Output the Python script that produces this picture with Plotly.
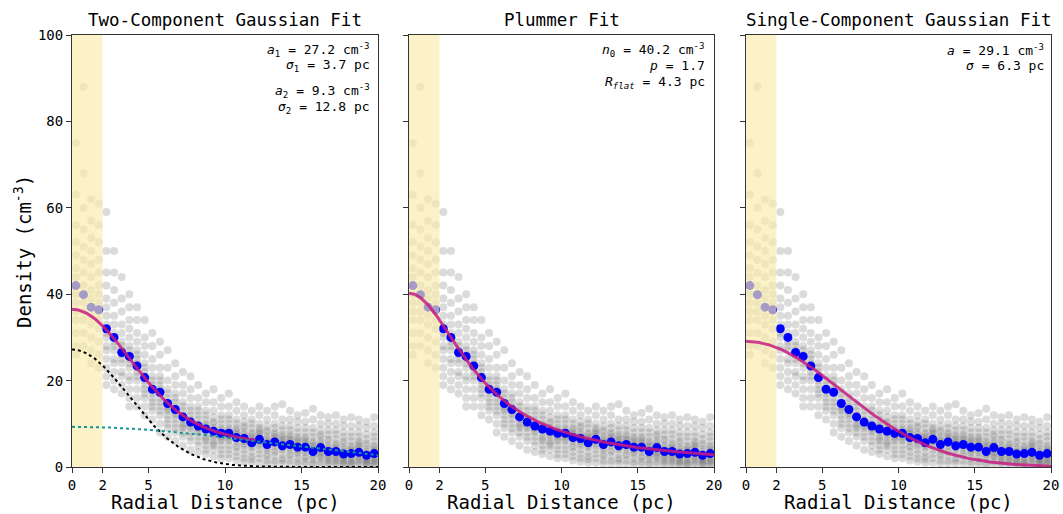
import numpy as np
import plotly.graph_objects as go

# ---------------- data ----------------
radius_bins = [0.25 + 0.5 * i for i in range(40)]

mean_density = [42.0, 39.9, 37.0, 36.4, 32.0, 30.0, 26.5, 25.6, 23.4, 20.7,
                18.0, 17.3, 14.7, 13.3, 11.6, 10.4, 9.5, 8.8, 8.3, 7.8,
                7.8, 6.8, 6.6, 5.6, 6.4, 5.2, 5.8, 4.9, 5.2, 4.6,
                4.6, 3.6, 4.5, 3.6, 3.6, 3.0, 3.1, 3.4, 2.7, 3.1]

gray_samples = [
    [75, 63, 56, 52, 49, 46, 44, 42, 40, 38, 36, 34, 31, 28, 26],
    [88, 68, 60, 55, 51, 48, 45, 42, 40, 38, 36, 34, 31, 28],
    [62, 57, 53, 50, 47, 44, 41, 39, 37, 35, 33, 30, 27, 24],
    [61, 56, 52, 48, 45, 42, 40, 38, 36, 34, 32, 29, 26, 23],
    [59, 50, 45, 42, 39, 37, 35, 33, 32, 31, 30, 28, 27, 25, 23, 21, 19],
    [50, 45, 41, 38, 35, 33, 31, 30, 29, 28, 27, 25, 24, 22, 20, 18],
    [44, 39, 36, 33, 31, 29, 28, 27, 26, 25, 24, 22, 21, 19, 17],
    [40, 37, 34, 32, 30, 28, 27, 26, 25, 24, 23, 21, 20, 18, 16, 14],
    [37, 34, 31, 29, 27, 26, 25, 24, 23, 22, 21, 20, 18, 16, 14],
    [34, 30, 28, 26, 24, 23, 22, 21, 20, 19, 18, 17, 16, 14, 12],
    [31, 28, 25, 23, 21, 20, 19, 18, 17, 16, 15, 14, 13, 11],
    [29, 26, 23, 21, 20, 19, 18, 17, 16, 15, 14, 13, 12, 10, 8],
    [27, 23, 20, 18, 17, 16, 15, 14, 13.5, 13, 12, 11, 10, 9, 7],
    [24, 21, 19, 17, 16, 15, 14, 13, 12.5, 12, 11, 10, 9, 8, 6],
    [22, 19, 17, 15, 14, 13, 12, 11.5, 11, 10, 9.5, 9, 8, 7, 5],
    [21, 18, 16, 14, 13, 12, 11, 10.5, 10, 9.5, 9, 8, 7, 6, 4],
    [19, 16, 14, 13, 12, 11, 10, 9.5, 9, 8.5, 8, 7, 6, 5, 3.5],
    [17, 15, 13, 12, 11, 10, 9.5, 9, 8.5, 8, 7, 6.5, 6, 5, 4, 3],
    [18, 15, 13, 11.5, 10.5, 10, 9, 8.5, 8, 7.5, 7, 6, 5.5, 5, 4, 2.5],
    [16, 14, 12, 11, 10, 9, 8.5, 8, 7.5, 7, 6.5, 6, 5, 4, 3, 2],
    [17, 14, 12, 11, 10, 9, 8.5, 8, 7.5, 7, 6.5, 6, 5, 4, 3, 2],
    [15, 13, 11, 10, 9, 8.5, 8, 7.5, 7, 6.5, 6, 5, 4.5, 3.5, 2.5, 1.5],
    [14, 12, 10.5, 9.5, 9, 8, 7.5, 7, 6.5, 6, 5.5, 5, 4, 3, 2, 1.2],
    [13, 11, 10, 9, 8, 7.5, 7, 6.5, 6, 5.5, 5, 4.5, 3.5, 2.5, 1.8, 1],
    [14, 12, 10, 9, 8.5, 8, 7.5, 7, 6.5, 6, 5.5, 5, 4, 3, 2, 1],
    [13, 11, 9.5, 8.5, 8, 7, 6.5, 6, 5.5, 5, 4.5, 4, 3, 2.5, 1.5, 0.8],
    [14, 12, 10, 9, 8, 7.5, 7, 6.5, 6, 5.5, 5, 4, 3.5, 2.5, 1.5, 0.8],
    [14.5, 11, 9.5, 8.5, 7.5, 7, 6.5, 6, 5.5, 5, 4.5, 4, 3, 2, 1.5, 0.8],
    [13, 11, 9.5, 8.5, 7.5, 7, 6.5, 6, 5.5, 5, 4.5, 4, 3, 2.5, 1.5, 0.7],
    [12, 10.5, 9, 8, 7, 6.5, 6, 5.5, 5, 4.5, 4, 3.5, 3, 2, 1.2, 0.6],
    [12.5, 10.5, 9, 8, 7, 6.5, 6, 5.5, 5, 4.5, 4, 3.5, 2.5, 2, 1.2, 0.6],
    [13.5, 11, 9, 8, 7, 6, 5.5, 5, 4.5, 4, 3.5, 3, 2.5, 1.8, 1, 0.5],
    [12, 10, 8.5, 7.5, 7, 6, 5.5, 5, 4.5, 4, 3.5, 3, 2.5, 2, 1.2, 0.6],
    [11.5, 10, 8.5, 7.5, 6.5, 6, 5, 4.5, 4, 3.5, 3, 2.5, 2, 1.5, 1, 0.5],
    [12, 10, 8.5, 7.5, 6.5, 5.5, 5, 4.5, 4, 3.5, 3, 2.5, 2, 1.5, 1, 0.5],
    [11, 9.5, 8, 7, 6, 5.5, 4.5, 4, 3.5, 3, 2.5, 2, 1.5, 1.2, 0.8, 0.4],
    [11.5, 9.5, 8, 7, 6, 5, 4.5, 4, 3.5, 3, 2.5, 2, 1.5, 1, 0.7, 0.4],
    [11, 9.5, 8, 7, 6, 5.5, 5, 4.5, 4, 3.5, 3, 2.5, 2, 1.5, 1, 0.5],
    [10.5, 9, 7.5, 6.5, 5.5, 5, 4, 3.5, 3, 2.5, 2, 1.8, 1.4, 1, 0.7, 0.4],
    [11.5, 9.5, 8, 7, 6, 5, 4.5, 4, 3.5, 3, 2.5, 2, 1.5, 1.2, 0.8, 0.4],
]

# fit parameters
g2_a1, g2_s1, g2_a2, g2_s2 = 27.2, 3.7, 9.3, 12.8
pl_n0, pl_p, pl_rflat = 40.2, 1.7, 4.3
g1_a, g1_s = 29.1, 6.3

panel_titles = ["Two-Component Gaussian Fit", "Plummer Fit", "Single-Component Gaussian Fit"]
x_tickvals = [0, 2, 5, 10, 15, 20]
y_tickvals = [0, 20, 40, 60, 80, 100]

# ---------------- figure ----------------
W, H = 1063, 514
ML, MR, MT, MB = 60, 8, 30, 40
PW, PH = W - ML - MR, H - MT - MB
FONT = "DejaVu Sans Mono"
x_dom_px = [(72, 378), (409, 714), (746, 1051)]
y_top_px, y_bot_px = 35, 467


def px_x(v):
    return (v - ML) / PW


def px_y(v):
    return (H - MB - v) / PH


gx = [r for r, vals in zip(radius_bins, gray_samples) for _ in vals]
gy = [v for vals in gray_samples for v in vals]

r_full = np.linspace(0, 20, 300)
r_part = np.linspace(0, 12, 200)
comp1 = lambda r: g2_a1 * np.exp(-r ** 2 / (2 * g2_s1 ** 2))
comp2 = lambda r: g2_a2 * np.exp(-r ** 2 / (2 * g2_s2 ** 2))
plummer = lambda r: pl_n0 / (1 + (r / pl_rflat) ** 2) ** (pl_p / 2)
gauss1 = lambda r: g1_a * np.exp(-r ** 2 / (2 * g1_s ** 2))

fig = go.Figure()
MAG = "rgb(200,30,130)"

for i in range(3):
    xa = "x" if i == 0 else f"x{i+1}"
    ya = "y" if i == 0 else f"y{i+1}"
    fig.add_trace(go.Scatter(x=gx, y=gy, mode="markers", xaxis=xa, yaxis=ya,
                             marker=dict(size=8, color="rgba(90,90,90,0.22)", line=dict(width=0)),
                             hoverinfo="skip", showlegend=False))
    fig.add_trace(go.Scatter(x=radius_bins, y=mean_density, mode="markers", xaxis=xa, yaxis=ya,
                             marker=dict(size=9, color="rgb(0,0,255)", line=dict(width=0)),
                             showlegend=False))
    fig.add_trace(go.Scatter(x=[0, 2, 2, 0, 0], y=[0, 0, 100, 100, 0], mode="lines", xaxis=xa, yaxis=ya,
                             fill="toself", fillcolor="rgba(250,236,170,0.66)", line=dict(width=0),
                             hoverinfo="skip", showlegend=False))
    if i == 0:
        fig.add_trace(go.Scatter(x=r_part, y=comp1(r_part) + comp2(r_part), mode="lines", xaxis=xa, yaxis=ya,
                                 line=dict(color=MAG, width=3), opacity=0.85, showlegend=False))
        fig.add_trace(go.Scatter(x=r_full, y=comp1(r_full), mode="lines", xaxis=xa, yaxis=ya,
                                 line=dict(color="black", width=2, dash="dot"), showlegend=False))
        fig.add_trace(go.Scatter(x=r_full, y=comp2(r_full), mode="lines", xaxis=xa, yaxis=ya,
                                 line=dict(color="rgb(20,150,150)", width=2, dash="dot"), showlegend=False))
    elif i == 1:
        fig.add_trace(go.Scatter(x=r_full, y=plummer(r_full), mode="lines", xaxis=xa, yaxis=ya,
                                 line=dict(color=MAG, width=3), opacity=0.85, showlegend=False))
    else:
        fig.add_trace(go.Scatter(x=r_full, y=gauss1(r_full), mode="lines", xaxis=xa, yaxis=ya,
                                 line=dict(color=MAG, width=3), opacity=0.85, showlegend=False))

axis_common = dict(showline=True, mirror=True, linecolor="#333", linewidth=1, automargin=False,
                   ticks="outside", ticklen=5, tickcolor="#333", showgrid=False, zeroline=False,
                   tickfont=dict(family=FONT, size=14, color="black"))
layout = dict(width=W, height=H, margin=dict(l=ML, r=MR, t=MT, b=MB, autoexpand=False),
              paper_bgcolor="white", plot_bgcolor="white", showlegend=False)
ydom = [px_y(y_bot_px), px_y(y_top_px)]
for i, (a, b) in enumerate(x_dom_px):
    xk = "xaxis" if i == 0 else f"xaxis{i+1}"
    yk = "yaxis" if i == 0 else f"yaxis{i+1}"
    layout[xk] = dict(axis_common, domain=[px_x(a), px_x(b)], range=[0, 20], tickvals=x_tickvals,
                      anchor="y" if i == 0 else f"y{i+1}")
    layout[yk] = dict(axis_common, domain=ydom, range=[0, 100], tickvals=y_tickvals,
                      showticklabels=(i == 0), anchor="x" if i == 0 else f"x{i+1}")
fig.update_layout(**layout)

ann = []
for (a, b), t in zip(x_dom_px, panel_titles):
    ann.append(dict(text=t, x=px_x((a + b) / 2), y=px_y(20), xref="paper", yref="paper",
                    xanchor="center", yanchor="middle", showarrow=False,
                    font=dict(family=FONT, size=17.5, color="black")))
    ann.append(dict(text="Radial Distance (pc)", x=px_x((a + b) / 2), y=px_y(502), xref="paper", yref="paper",
                    xanchor="center", yanchor="middle", showarrow=False,
                    font=dict(family=FONT, size=19, color="black")))

ann.append(dict(text="Density (cm<sup>-3</sup>)", x=px_x(23), y=px_y(252), xref="paper", yref="paper",
                textangle=-90, xanchor="center", yanchor="middle", showarrow=False,
                font=dict(family=FONT, size=19, color="black")))

param_lines = [
    (372, 50, "<i>a</i><sub>1</sub> = %.1f cm<sup>-3</sup>" % g2_a1),
    (372, 66, "<i>σ</i><sub>1</sub> = %.1f pc" % g2_s1),
    (372, 91, "<i>a</i><sub>2</sub> = %.1f cm<sup>-3</sup>" % g2_a2),
    (372, 108, "<i>σ</i><sub>2</sub> = %.1f pc" % g2_s2),
    (707, 50, "<i>n</i><sub>0</sub> = %.1f cm<sup>-3</sup>" % pl_n0),
    (707, 66, "<i>p</i> = %.1f" % pl_p),
    (707, 82, "<i>R</i><sub><i>flat</i></sub> = %.1f pc" % pl_rflat),
    (1046, 50, "<i>a</i> = %.1f cm<sup>-3</sup>" % g1_a),
    (1046, 66, "<i>σ</i> = %.1f pc" % g1_s),
]
for xp, yp, t in param_lines:
    ann.append(dict(text=t, x=px_x(xp), y=px_y(yp), xref="paper", yref="paper",
                    xanchor="right", yanchor="middle", showarrow=False,
                    font=dict(family=FONT, size=13, color="black")))

fig.update_layout(annotations=ann)
fig.write_html("out.html")
